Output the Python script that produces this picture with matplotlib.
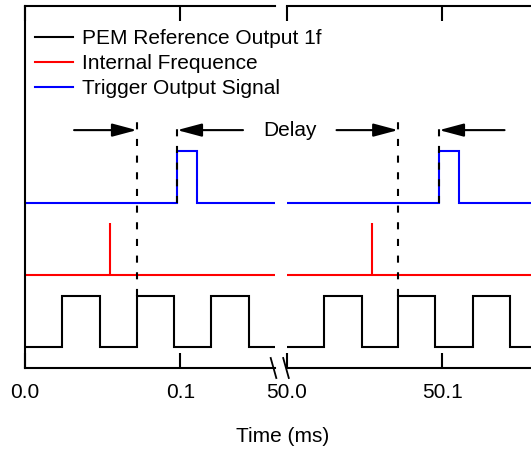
import matplotlib
matplotlib.use("Agg")
import matplotlib.pyplot as plt
import numpy as np

plt.rcParams['font.family'] = ['Liberation Sans', 'DejaVu Sans']

# ---- data (ms) ----
left_xlim = (0.0, 0.161)
right_xlim = (50.0, 50.161)
left_ticks = [0.0, 0.1]
right_ticks = [50.0, 50.1]
left_ticklabels = ["0.0", "0.1"]
right_ticklabels = ["50.0", "50.1"]

# PEM reference square wave edges (starts low)
pem_edges_left = [0.024, 0.048, 0.072, 0.096, 0.120, 0.144]
pem_edges_right = [50.024, 50.048, 50.0715, 50.0955, 50.1195, 50.1435]
pem_levels = (0.4, 1.4)

# internal frequency spike
spike_left = [0.0545]
spike_right = [50.0547]
spike_levels = (1.8, 2.8)

# trigger output pulse (rise, fall)
pulse_left = (0.098, 0.1105)
pulse_right = (50.098, 50.1105)
pulse_levels = (3.2, 4.2)

# delay markers: reference edge, trigger edge, arrow tails
delay_left = (0.072, 0.098, 0.0316, 0.1404)
delay_right = (50.0715, 50.098, 50.0319, 50.1401)
arrow_y = 4.6
dash_top = 4.8

labels = ["PEM Reference Output 1f", "Internal Frequence", "Trigger Output Signal"]
colors = ["black", "#ff0000", "#0000ff"]

FS = 15
W, H = 531, 450
fig = plt.figure(figsize=(W / 100, H / 100), dpi=100)
bottom_px, top_px = 368, 6
ax_l = fig.add_axes([25 / W, (H - bottom_px) / H, 250 / W, (bottom_px - top_px) / H])
ax_r = fig.add_axes([287 / W, (H - bottom_px) / H, 250 / W, (bottom_px - top_px) / H])

lw = 1.5
dash = (0, (3.4, 4.6))


def square(edges, xlim, lo, hi):
    xs = [xlim[0]]
    ys = [lo]
    level = lo
    for e in edges:
        xs += [e, e]
        nxt = hi if level == lo else lo
        ys += [level, nxt]
        level = nxt
    xs.append(xlim[1])
    ys.append(level)
    return xs, ys


def draw(ax, xlim, pem_edges, spikes, pulse, delay):
    xs, ys = square(pem_edges, xlim, *pem_levels)
    h_pem, = ax.plot(xs, ys, color=colors[0], lw=lw, solid_joinstyle='miter')
    h_red, = ax.plot(xlim, [spike_levels[0]] * 2, color=colors[1], lw=lw)
    ax.vlines(spikes, spike_levels[0], spike_levels[1], color=colors[1], lw=lw)
    xs, ys = square(list(pulse), xlim, *pulse_levels)
    h_blue, = ax.plot(xs, ys, color=colors[2], lw=lw, solid_joinstyle='miter')
    ref, trig, tail1, tail2 = delay
    ax.plot([ref, ref], [pem_levels[1], dash_top], color='black', lw=lw, linestyle=dash)
    ax.plot([trig, trig], [pulse_levels[0], dash_top - 0.1], color='black', lw=lw, linestyle=dash)
    for tail, tip in ((tail1, ref), (tail2, trig)):
        ax.annotate('', xy=(tip, arrow_y), xytext=(tail, arrow_y),
                    arrowprops=dict(arrowstyle='-|>,head_length=1.5,head_width=0.4',
                                    mutation_scale=10, lw=lw, color='black',
                                    shrinkA=0, shrinkB=0))
    ax.set_xlim(*xlim)
    ax.set_ylim(0, 7)
    ax.set_yticks([])
    return h_pem, h_red, h_blue


handles = draw(ax_l, left_xlim, pem_edges_left, spike_left, pulse_left, delay_left)
draw(ax_r, right_xlim, pem_edges_right, spike_right, pulse_right, delay_right)

for ax, ticks, tl in ((ax_l, left_ticks, left_ticklabels), (ax_r, right_ticks, right_ticklabels)):
    ax.set_xticks(ticks)
    ax.set_xticklabels(tl, fontsize=FS)
    ax.tick_params(axis='x', direction='in', length=11, width=1.5, top=True, pad=10.5)
    for s in ax.spines.values():
        s.set_linewidth(1.5)
    ax.spines['right'].set_visible(False)
    ax.set_facecolor('none')
ax_r.spines['left'].set_visible(False)

# break marks
for ax, xc in ((ax_l, 1.0 - 1.5 / 250), (ax_r, -1 / 250)):
    dx = 2.8 / 250
    dy = 10 / 362
    ax.plot([xc - dx, xc + dx], [dy, -dy], transform=ax.transAxes, color='black',
            lw=1.3, clip_on=False)

fig.legend(handles, labels, loc='upper left', bbox_to_anchor=(35 / W, 1 - 29 / H),
           frameon=False, fontsize=FS, handlelength=1.83, handletextpad=0.45,
           labelspacing=0.3, borderaxespad=0, borderpad=0)

fig.text(290 / W, 1 - 130 / H, "Delay", fontsize=FS, ha='center', va='center')
fig.text(283 / W, 1 - 437 / H, "Time (ms)", fontsize=FS, ha='center', va='center')

fig.savefig("out.png", dpi=100)
